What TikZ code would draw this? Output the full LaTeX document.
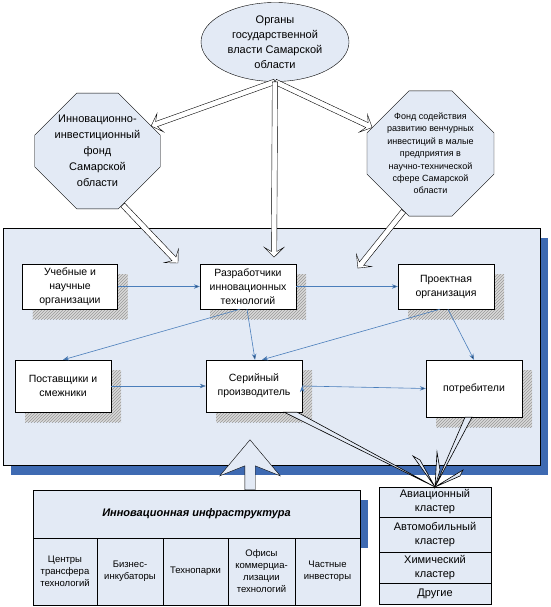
\documentclass[tikz,border=0pt]{standalone}
\usepackage{fontspec}
\setmainfont{Liberation Sans}
\usepackage{tikz}
\usetikzlibrary{positioning, calc}
\usetikzlibrary{arrows.meta}
\usetikzlibrary{shapes,arrows,shadows,patterns}

\definecolor{paleblue}{RGB}{227,234,245}
\definecolor{linkblue}{RGB}{74,126,187}
\definecolor{deepblue}{RGB}{62,106,178}

% hollow arrow from #2 to #3
\newcommand\hollowlink[3][]{%
 \path let \p1=($(#3)-(#2)$), \n1={atan2(\y1,\x1)}, \n2={veclen(\x1,\y1)} in
  node[h-arrow, rotate=\n1, minimum height=\n2, anchor=tail, #1] at (#2) {};}

\begin{document}
\begin{tikzpicture}[x=1pt,y=-1pt,draw=black!100,font=\fontsize{10.5}{14}\selectfont]
 	\tikzstyle{gov-node}=[ellipse,draw,fill=paleblue,minimum width=148pt,minimum height=79pt,inner sep=0pt,align=center,font=\fontsize{11}{15}\selectfont]
 	\tikzstyle{fund-node}=[chamfered rectangle,draw,fill=paleblue,inner sep=0pt,align=center,chamfered rectangle xsep=20pt,chamfered rectangle ysep=22pt]
 	\tikzstyle{r-node}=[draw,fill=white,inner sep=0pt,align=center,minimum width=95pt,minimum height=45pt,
 		general shadow={fill=gray!30,shadow xshift=10pt,shadow yshift=-10pt},
 		general shadow={pattern=north east lines,pattern color=gray!80,shadow xshift=10pt,shadow yshift=-10pt}]
 	\tikzstyle{cell}=[draw,fill=paleblue,inner sep=0pt,outer sep=0pt,align=center,minimum height=67pt,font=\fontsize{9.5}{12}\selectfont]
 	\tikzstyle{clu}=[draw,fill=paleblue,inner sep=0pt,outer sep=0pt,align=center,minimum width=112pt,font=\fontsize{11}{14}\selectfont]
 	\tikzstyle{link}=[->,>={Stealth[length=6pt,width=4.5pt]},draw=linkblue,line width=0.6pt]
 	\tikzstyle{h-arrow}=[single arrow,draw,fill=white,inner xsep=0pt,inner ysep=2.5pt,single arrow head extend=7pt,single arrow head indent=4pt]
 	\tikzstyle{spike}=[draw,fill=paleblue,line width=0.6pt]

 	\useasboundingbox (0,0) rectangle (550,607);

 	% working field
 	\node[draw,fill=paleblue,minimum width=537pt,minimum height=237pt,
 		general shadow={fill=deepblue,shadow xshift=8pt,shadow yshift=-10pt}] (field) at (271.5,346.5) {};

 	% government and funds
 	\node[gov-node] (gov) at (275,42) {Органы\\государственной\\власти Самарской\\области};
 	\node[fund-node,minimum width=105pt,minimum height=112pt,font=\fontsize{11}{16}\selectfont] (fundL) at (97.5,151)
 		{Инновационно-\\инвестиционный\\фонд\\Самарской\\области};
 	\node[fund-node,minimum width=107pt,minimum height=117pt,font=\fontsize{9}{12.4}\selectfont] (fundR) at (430.5,153.5)
 		{Фонд содействия\\развитию венчурных\\инвестиций в малые\\предприятия в\\научно-технической\\сфере Самарской\\области};

 	\coordinate (gov-in)   at (274,257);
 	\coordinate (fundL-in) at (178,263);
 	\coordinate (fundR-in) at (358,268);

 	\hollowlink{gov.south}{fundL.25}
 	\hollowlink{gov.south}{fundR.156}
 	\hollowlink{gov.south}{gov-in}
 	\hollowlink{fundL.-65}{fundL-in}
 	\hollowlink{fundR.-115}{fundR-in}

 	% cluster participants
 	\node[r-node] 	(uch)	at (70,286.5)	{Учебные и\\научные\\организации};
 	\node[r-node,minimum width=96pt] 	(razr)	at (248,286.5)	{Разработчики\\инновационных\\технологий};
 	\node[r-node,minimum width=96pt] 	(proekt)	at (446,286.5)	{Проектная\\организация};
 	\node[r-node,minimum width=96pt,minimum height=52pt] 	(post)	at (63,386)	{Поставщики и\\смежники};
 	\node[r-node,minimum width=96pt,minimum height=52pt] 	(ser)	at (254,386)	{Серийный\\производитель};
 	\node[r-node,minimum width=96pt,minimum height=57pt] 	(potr)	at (474,388.5)	{потребители};

 	\path[link] (uch)	edge	(razr)
 		(razr)	edge	(proekt)
 		([xshift=-8pt]razr.south)	edge	(post.north)
 		([xshift=-1pt]razr.south)	edge	([xshift=1pt]ser.north)
 		([xshift=-6pt]proekt.south)	edge	([xshift=8pt]ser.north)
 		([xshift=2pt]proekt.south)	edge	(potr.north)
 		(post)	edge	(ser)
 		(ser.east)	edge	(potr.west);

 	% innovation infrastructure
 	\node[cell,minimum width=327pt,minimum height=48pt,font=\fontsize{11}{14}\selectfont\bfseries\itshape,
 		general shadow={fill=deepblue,shadow xshift=8pt,shadow yshift=-10pt}] (infra) at (196.5,514) {Инновационная инфраструктура};
 	\node[cell,minimum width=64pt,anchor=north west] (c1) at (infra.south west) {Центры\\трансфера\\технологий};
 	\node[cell,minimum width=66pt,right=0pt of c1] (c2) {Бизнес-\\инкубаторы};
 	\node[cell,minimum width=65pt,right=0pt of c2] (c3) {Технопарки};
 	\node[cell,minimum width=67pt,right=0pt of c3] (c4) {Офисы\\коммерциа-\\лизации\\технологий};
 	\node[cell,minimum width=65pt,right=0pt of c4] (c5) {Частные\\инвесторы};

 	\coordinate (infra-tip) at (250,440);
 	\hollowlink[fill=paleblue,inner ysep=5pt,single arrow head extend=25pt,single arrow head indent=10pt,single arrow tip angle=80]{infra.north -| infra-tip}{infra-tip}

 	% clusters
 	\node[clu,minimum height=30pt] (clu1) at (435,502) {Авиационный\\кластер};
 	\node[clu,minimum height=35pt,below=0pt of clu1] (clu2) {Автомобильный\\кластер};
 	\node[clu,minimum height=31pt,below=0pt of clu2] (clu3) {Химический\\кластер};
 	\node[clu,minimum height=21pt,below=0pt of clu3] (clu4) {Другие};

 	% spikes to clusters
 	\filldraw[spike] ([xshift=-18pt]ser.south east) -- (clu1.north) -- ([xshift=-5pt]ser.south east) -- cycle;
 	\filldraw[spike] ([xshift=-9pt]potr.south) -- (clu1.north) -- ([xshift=-2pt]potr.south) -- cycle;
 	\filldraw[spike] (clu1.north) -- ++(-22,-31) -- ++(7,4) -- cycle;
 	\filldraw[spike] (clu1.north) -- ++(2,-35) -- ++(3,18) -- cycle;
 	\filldraw[spike] (clu1.north) -- ++(28,-17) -- ++(-3,6) -- cycle;
 \end{tikzpicture}
\end{document}
